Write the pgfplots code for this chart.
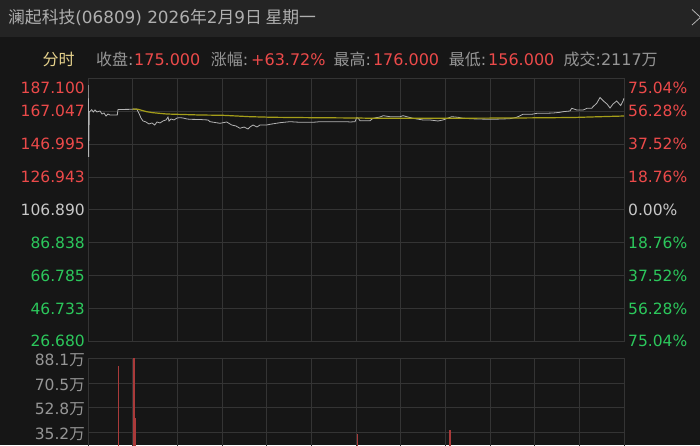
\documentclass[border=0pt]{standalone}
\usepackage{pgfplots}
\pgfplotsset{compat=1.18}
\usepackage{fontspec}
\setmainfont{DejaVu Sans}
\newfontfamily\cjk{Noto Sans CJK SC}
\definecolor{bg}{RGB}{22,22,22}
\definecolor{barbg}{RGB}{36,36,36}
\definecolor{gridgray}{RGB}{52,52,52}
\definecolor{upred}{RGB}{236,74,74}
\definecolor{downgreen}{RGB}{44,200,92}
\definecolor{neutral}{RGB}{200,200,200}
\definecolor{labgray}{RGB}{150,150,150}
\definecolor{titlegray}{RGB}{175,175,175}
\definecolor{fenshi}{RGB}{230,210,140}
\definecolor{priceline}{RGB}{180,180,180}
\definecolor{avgline}{RGB}{165,158,25}
\definecolor{volred}{RGB}{170,58,58}
\newcommand\fs{\fontsize{15.5}{18}\selectfont}
\newcommand\fst{\fontsize{16}{19}\selectfont}
\newcommand\fstt{\fontsize{16.8}{19}\selectfont}

\pgfplotstableread{
t p
0.00 167.16
0.18 183.0
0.37 139.1
0.80 166.55
2.28 167.95
3.26 166.55
4.31 167.77
5.54 166.55
7.39 167.16
8.62 165.32
9.85 165.94
11.08 164.1
12.31 165.32
13.54 164.71
17.24 164.71
18.04 164.71
18.47 168.07
27.52 168.19
29.98 168.37
31.58 165.32
32.63 162.89
33.86 161.06
35.71 160.45
37.56 159.23
39.40 159.84
41.07 158.62
42.48 160.45
44.33 159.84
46.18 161.06
48.02 161.67
49.25 163.5
49.87 161.06
51.10 162.28
52.95 161.67
54.79 162.89
56.64 163.07
58.49 162.89
60.95 162.28
62.80 162.09
68.96 161.97
73.88 161.67
75.11 160.63
81.27 159.65
85.39 160.45
88.47 158.62
91.12 158.0
93.58 156.60
96.05 157.39
98.51 156.18
99.74 157.39
101.59 158.62
104.05 157.39
105.90 158.62
110.02 158.62
112.05 159.04
118.21 160.02
124.37 160.63
130.52 160.26
138.53 160.26
142.84 160.63
159.27 160.63
161.31 160.45
164.38 160.63
165.43 163.07
166.23 162.89
167.46 161.24
173.62 161.24
175.46 162.70
179.77 163.5
181.80 164.29
185.93 163.68
192.09 163.68
193.93 164.29
200.09 162.70
206.25 161.67
210.56 161.67
215.48 161.06
218.56 161.67
223.92 163.68
227.80 163.31
230.88 162.70
239.31 162.28
249.35 162.09
259.81 162.46
263.94 163.31
267.82 165.14
273.17 165.14
276.44 165.75
281.36 165.75
286.47 165.94
290.60 166.36
292.44 166.73
296.75 167.16
297.80 168.80
300.88 167.77
304.94 167.77
307.22 168.80
310.11 168.80
310.91 169.78
313.19 171.85
315.22 175.39
317.68 172.95
319.53 171.42
321.38 168.98
323.22 171.42
325.50 173.25
327.96 170.51
329.38 173.25
330.00 175.00
}\pricetable

\pgfplotstableread{
t p
27.52 168.37
30.78 168.19
36.14 166.73
40.02 166.12
48.45 165.32
68.96 164.71
83.12 164.53
99.74 163.68
113.90 163.31
138.53 163.07
165.43 162.89
175.46 162.70
216.71 162.70
263.94 162.89
298.60 163.19
313.38 163.62
330.00 164.10
}\avgtable

\pgfplotstableread{
t v
18.65 82.9
28.32 88.1
29.20 45.7
165.99 34.1
222.87 37.2
}\voltable

\begin{document}
\begin{tikzpicture}[x=1pt,y=1pt]
\useasboundingbox (0,0) rectangle (700,445);
\clip (0,0) rectangle (700,445);
\fill[bg] (0,0) rectangle (700,445);
\fill[barbg] (0,407.7) rectangle (700,445);
\draw[gray!60, line width=0.8pt] (692,435.5) -- (700.5,427.7) -- (692,420);

% title
\node[anchor=base west, inner sep=0pt, text=titlegray] at (8,421.7)
  {\fstt\cjk 澜起科技\fontspec{DejaVu Sans}(06809) 2026\cjk 年\fontspec{DejaVu Sans}2\cjk 月\fontspec{DejaVu Sans}9\cjk 日 星期一};

% info line
\begin{scope}[every node/.style={anchor=base west, inner sep=0pt}]
\node[text=fenshi] at (42.4,379.3) {\fst\cjk 分时};
\node[text=labgray] at (96,379.3) {\fst\cjk 收盘\fontspec{DejaVu Sans}:};
\node[text=upred] at (134,379.3) {\fst 175.000};
\node[text=labgray] at (210.7,379.3) {\fst\cjk 涨幅\fontspec{DejaVu Sans}:};
\node[text=upred] at (251,379.3) {\fst +63.72\%};
\node[text=labgray] at (333.5,379.3) {\fst\cjk 最高\fontspec{DejaVu Sans}:};
\node[text=upred] at (372.8,379.3) {\fst 176.000};
\node[text=labgray] at (448.7,379.3) {\fst\cjk 最低\fontspec{DejaVu Sans}:};
\node[text=upred] at (488,379.3) {\fst 156.000};
\node[text=labgray] at (563.4,379.3) {\fst\cjk 成交\fontspec{DejaVu Sans}:2117\cjk 万};
\end{scope}

% price panel
\begin{axis}[
  at={(88pt,103.7pt)}, anchor=south west,
  width=536pt, height=263pt, scale only axis,
  xmin=0, xmax=330, ymin=26.68, ymax=187.1,
  xtick={0,27.5,...,330}, xticklabels={},
  ytick={26.68,46.733,66.785,86.838,106.89,126.943,146.995,167.047,187.1},
  yticklabels={\textcolor{downgreen}{26.680},\textcolor{downgreen}{46.733},\textcolor{downgreen}{66.785},\textcolor{downgreen}{86.838},\textcolor{neutral}{106.890},\textcolor{upred}{126.943},\textcolor{upred}{146.995},\textcolor{upred}{167.047},{}},
  yticklabel style={anchor=east, inner sep=0pt, xshift=-3pt, font=\fs},
  grid=major, grid style={gridgray, line width=0.8pt},
  axis line style={gridgray, line width=0.8pt},
  major tick length=0pt, tick style={draw=none},
  clip=true,
]
\addplot[priceline, line width=0.8pt] table[x=t,y=p] {\pricetable};
\addplot[avgline, line width=1.2pt] table[x=t,y=p] {\avgtable};
\end{axis}
\node[anchor=east, inner sep=0pt, text=upred] at (85,356.7) {\fs 187.100};

% right percentages
\begin{axis}[
  at={(88pt,103.7pt)}, anchor=south west,
  width=536pt, height=263pt, scale only axis,
  xmin=0, xmax=330, ymin=26.68, ymax=187.1,
  xtick=\empty, axis line style={draw=none},
  ytick={26.68,46.733,66.785,86.838,106.89,126.943,146.995,167.047},
  yticklabels={\textcolor{downgreen}{75.04\%},\textcolor{downgreen}{56.28\%},\textcolor{downgreen}{37.52\%},\textcolor{downgreen}{18.76\%},\textcolor{neutral}{0.00\%},\textcolor{upred}{18.76\%},\textcolor{upred}{37.52\%},\textcolor{upred}{56.28\%}},
  yticklabel pos=right,
  yticklabel style={anchor=west, inner sep=0pt, xshift=4pt, font=\fs},
  major tick length=0pt, tick style={draw=none},
]
\end{axis}
\node[anchor=west, inner sep=0pt, text=upred] at (628,356.7) {\fs 75.04\%};

% volume panel
\begin{axis}[
  at={(88pt,-36.7pt)}, anchor=south west,
  width=536pt, height=123.4pt, scale only axis,
  xmin=0, xmax=330, ymin=0, ymax=88.1,
  xtick={0,27.5,...,330}, xticklabels={},
  ytick={35.24,52.86,70.48,88.1},
  yticklabels={35.2\cjk 万,52.8\cjk 万,70.5\cjk 万,88.1\cjk 万},
  yticklabel style={anchor=east, inner sep=0pt, xshift=-3pt, yshift=-2pt, font=\fs, text=labgray},
  grid=major, grid style={gridgray, line width=0.8pt},
  axis line style={gridgray, line width=0.8pt},
  major tick length=0pt, tick style={draw=none},
]
\addplot[ycomb, volred, line width=1.4pt, mark=none] table[x=t,y=v] {\voltable};
\end{axis}
\end{tikzpicture}
\end{document}
